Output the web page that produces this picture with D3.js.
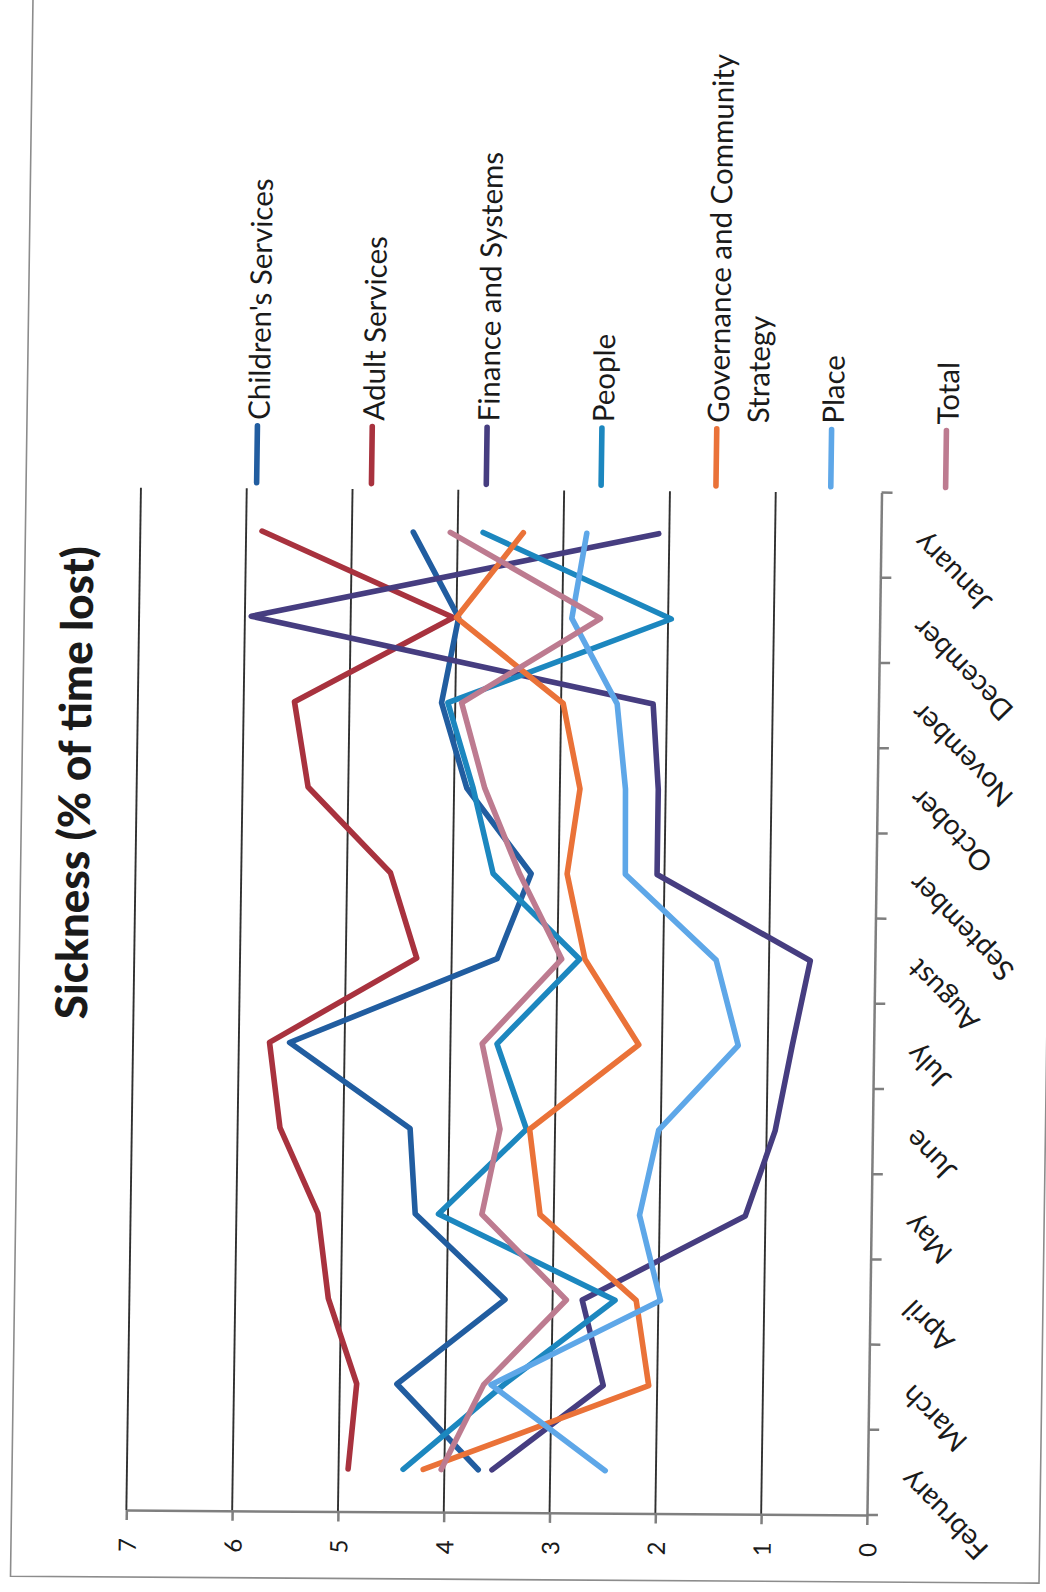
<!DOCTYPE html>
<html>
<head>
<meta charset="utf-8">
<script src="https://cdn.jsdelivr.net/npm/d3@7"></script>
<style>
  html, body { margin: 0; padding: 0; background: #fff; }
  svg { display: block; }
  text { font-family: Lato, "Open Sans", sans-serif; fill: #1a1a1a; }
</style>
</head>
<body>
<script>
// Monthly sickness absence, % of time lost, by directorate
const months = ["February", "March", "April", "May", "June", "July",
                "August", "September", "October", "November", "December", "January"];

const seriesNames = ["Children's Services", "Adult Services", "Finance and Systems", "People",
                     "Governance and Community Strategy", "Place", "Total"];
const seriesColors = ["#215da0", "#a8323e", "#463d80", "#1c87bf", "#ea7238", "#5ea7e8", "#bd7b90"];

const childrensServices = [3.68, 4.46, 3.45, 4.31, 4.37, 5.52, 3.57, 3.26, 3.88, 4.13, 3.98, 4.42];
const adultServices     = [4.91, 4.84, 5.12, 5.23, 5.60, 5.71, 4.33, 4.59, 5.38, 5.52, 4.03, 5.85];
const financeSystems    = [3.55, 2.51, 2.72, 1.19, 0.92, 0.77, 0.61, 2.07, 2.07, 2.13, 5.94, 2.10];
const people            = [4.39, 3.45, 2.41, 4.09, 3.27, 3.56, 2.79, 3.62, 3.82, 4.07, 1.97, 3.76];
const governance        = [4.20, 2.08, 2.21, 3.13, 3.24, 2.22, 2.74, 2.92, 2.81, 2.98, 4.00, 3.38];
const place             = [2.48, 3.57, 1.98, 2.19, 2.02, 1.28, 1.50, 2.37, 2.38, 2.47, 2.91, 2.78];
const total             = [4.03, 3.64, 2.87, 3.68, 3.52, 3.70, 2.96, 3.37, 3.71, 3.94, 2.64, 4.07];

const valueTicks = [0, 1, 2, 3, 4, 5, 6, 7];
const titleText = "Sickness (% of time lost)";

const seriesValues = [childrensServices, adultServices, financeSystems, people, governance, place, total];
const series = seriesNames.map((name, i) => ({
  name, color: seriesColors[i],
  points: months.map((m, j) => ({ month: m, value: seriesValues[i][j] }))
}));

// ---- layout: the chart lies on its side, value axis along the bottom ----
const W = 1046, H = 1592;
const axisY = 1515;            // value axis line
const catTop = 492.6;          // far end of the month axis
const valueLeft = 126.4, valueRight = 867;

const svg = d3.select("body").append("svg").attr("width", W).attr("height", H);
svg.append("rect").attr("width", W).attr("height", H).attr("fill", "#fff");

// the sheet sits slightly askew on the page
const sheet = svg.append("g").attr("transform", "matrix(1,0.0067,-0.01426,1,21.56,-5.81)");

// page frame
sheet.append("path")
  .attr("d", "M11.5,-40 V1582 H1040 V-40")
  .attr("fill", "none").attr("stroke", "#8c8c8c").attr("stroke-width", 1.6);

const x = d3.scaleLinear().domain([0, 7]).range([valueRight, valueLeft]);
const y = d3.scalePoint().domain(months).range([axisY, catTop]).padding(0.5);
const step = y.step();

// gridlines
sheet.append("g").selectAll("line")
  .data(valueTicks.filter(v => v > 0))
  .join("line")
  .attr("x1", d => x(d)).attr("x2", d => x(d))
  .attr("y1", catTop).attr("y2", axisY)
  .attr("stroke", "#303030").attr("stroke-width", 1.9);

// value axis
const valueAxis = sheet.append("g")
  .attr("transform", `translate(0,${axisY})`)
  .call(d3.axisBottom(x).tickValues(valueTicks).tickSize(10).tickSizeOuter(0).tickFormat(d3.format("d")));
valueAxis.select(".domain").attr("stroke", "#7f7f7f").attr("stroke-width", 2.5);
valueAxis.selectAll(".tick line").attr("stroke", "#7f7f7f").attr("stroke-width", 2.5);
valueAxis.selectAll(".tick text")
  .attr("x", null).attr("y", null).attr("dy", null)
  .attr("transform", "translate(0,35) rotate(-90)")
  .attr("text-anchor", "middle").attr("dominant-baseline", "central")
  .attr("font-size", 24).attr("fill", "#1a1a1a");

// month axis
const monthAxis = sheet.append("g")
  .attr("transform", `translate(${valueRight},0)`)
  .call(d3.axisRight(y).tickSize(0).tickSizeOuter(0).tickPadding(0));
monthAxis.select(".domain").attr("stroke", "#7f7f7f").attr("stroke-width", 2.5);
monthAxis.selectAll(".tick text")
  .attr("x", null).attr("dy", null)
  .attr("transform", "translate(37,3) rotate(-135)")
  .attr("text-anchor", "end").attr("dominant-baseline", "central")
  .attr("font-size", 28.5).attr("fill", "#1a1a1a");
// tick marks between months
monthAxis.append("g").selectAll("line")
  .data(d3.range(months.length + 1))
  .join("line")
  .attr("x1", 0).attr("x2", 11)
  .attr("y1", i => y(months[0]) + step / 2 - i * step)
  .attr("y2", i => y(months[0]) + step / 2 - i * step)
  .attr("stroke", "#7f7f7f").attr("stroke-width", 2.5);

// series lines
const line = d3.line().x(d => x(d.value)).y(d => y(d.month));
sheet.append("g").selectAll("path")
  .data(series)
  .join("path")
  .attr("d", d => line(d.points))
  .attr("fill", "none")
  .attr("stroke", d => d.color)
  .attr("stroke-width", 5.6)
  .attr("stroke-linejoin", "round")
  .attr("stroke-linecap", "round");

// legend, one entry per series across the top
const legendX = d3.scalePoint().domain(seriesNames).range([242, 931]);
const legend = sheet.append("g").selectAll("g")
  .data(series)
  .join("g")
  .attr("transform", d => `translate(${legendX(d.name)},0)`);
legend.append("line")
  .attr("x1", 0).attr("x2", 0).attr("y1", 430).attr("y2", 487)
  .attr("stroke", d => d.color).attr("stroke-width", 5.6).attr("stroke-linecap", "round");
const legendText = legend.append("text")
  .attr("transform", "translate(12,424) rotate(-90)")
  .attr("font-size", 29.5);
legendText.each(function (d) {
  const lines = d.name === "Governance and Community Strategy"
    ? ["Governance and Community", "Strategy"] : [d.name];
  d3.select(this).selectAll("tspan")
    .data(lines)
    .join("tspan")
    .attr("x", 0)
    .attr("y", (t, i) => i * 40)
    .text(t => t);
});

// title
sheet.append("text")
  .attr("transform", "translate(80,788) rotate(-90)")
  .attr("text-anchor", "middle")
  .attr("font-size", 44).attr("font-weight", 900)
  .text(titleText);
</script>
</body>
</html>
